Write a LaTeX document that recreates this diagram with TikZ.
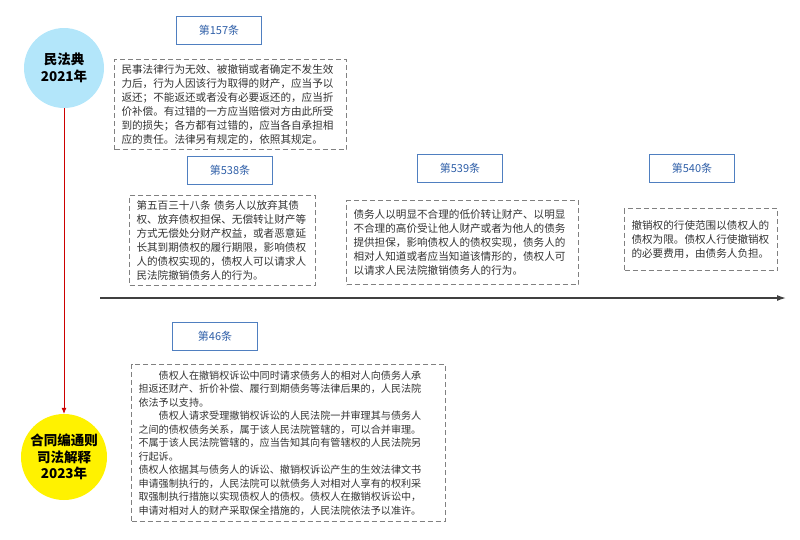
\documentclass[tikz,border=0pt]{standalone}
\usepackage{fontspec}
\setmainfont{Noto Sans CJK SC}
\usetikzlibrary{arrows.meta}
\definecolor{lb}{HTML}{4F7FC0}
\definecolor{lt}{HTML}{2F5FA8}
\begin{document}
\begin{tikzpicture}[x=1pt,y=-1pt,
  lab/.style={draw=lb,line width=0.9pt,fill=white,minimum width=85pt,minimum height=28pt,text=lt,font=\fontsize{11}{13}\selectfont},
  txt/.style={draw=gray,dash pattern=on 5pt off 3pt,line width=1pt,align=left,anchor=north west,inner xsep=7pt,inner ysep=5pt,text=black!80,font=\fontsize{10.6}{14}\selectfont},
  circ/.style={circle,minimum size=#1,inner sep=0pt,align=center,font=\bfseries\fontsize{13.5}{16.5}\selectfont}]
\useasboundingbox (0,0) rectangle (800,539);
\node[circ=80pt,fill=cyan!30] (c1) at (64,68) {民法典\\2021年};
\node[circ=86pt,fill=yellow] (c2) at (64,457) {合同编通则\\司法解释\\2023年};
\draw[red!80!black,line width=0.7pt,-{Latex[length=6pt,width=5pt]}] (c1) -- (c2);
\coordinate (t0) at (100,298); \coordinate (t1) at (786,298);
\draw[black!75,line width=1.3pt,-{Latex[length=9pt,width=6pt]}] (t0) -- (t1);
\node[lab] (l157) at (219,30) {第157条};
\node[lab] (l538) at (230,170) {第538条};
\node[lab] (l539) at (460,168) {第539条};
\node[lab] (l540) at (692,168) {第540条};
\node[lab] (l46) at (215,336) {第46条};
\node[txt,text width=218pt,minimum height=88pt] (b157) at (114,59) {民事法律行为无效、被撤销或者确定不发生效\\力后，行为人因该行为取得的财产，应当予以\\返还；不能返还或者没有必要返还的，应当折\\价补偿。有过错的一方应当赔偿对方由此所受\\到的损失；各方都有过错的，应当各自承担相\\应的责任。法律另有规定的，依照其规定。};
\node[txt,text width=172pt,minimum height=82pt] (b538) at (129,195) {第五百三十八条 债务人以放弃其债\\权、放弃债权担保、无偿转让财产等\\方式无偿处分财产权益，或者恶意延\\长其到期债权的履行期限，影响债权\\人的债权实现的，债权人可以请求人\\民法院撤销债务人的行为。};
\node[txt,text width=218pt,minimum height=84pt,inner ysep=7pt] (b539) at (346,200) {债务人以明显不合理的低价转让财产、以明显\\不合理的高价受让他人财产或者为他人的债务\\提供担保，影响债权人的债权实现，债务人的\\相对人知道或者应当知道该情形的，债权人可\\以请求人民法院撤销债务人的行为。};
\node[txt,text width=139pt,minimum height=62pt,inner ysep=7pt] (b540) at (624,208) {撤销权的行使范围以债权人的\\债权为限。债权人行使撤销权\\的必要费用，由债务人负担。};
\node[txt,text width=300pt,minimum height=156pt,inner ysep=6pt,font=\fontsize{10.1}{13.5}\selectfont] (b46) at (131,364) {\hspace{2em}债权人在撤销权诉讼中同时请求债务人的相对人向债务人承\\担返还财产、折价补偿、履行到期债务等法律后果的，人民法院\\依法予以支持。\\\hspace{2em}债权人请求受理撤销权诉讼的人民法院一并审理其与债务人\\之间的债权债务关系，属于该人民法院管辖的，可以合并审理。\\不属于该人民法院管辖的，应当告知其向有管辖权的人民法院另\\行起诉。\\债权人依据其与债务人的诉讼、撤销权诉讼产生的生效法律文书\\申请强制执行的，人民法院可以就债务人对相对人享有的权利采\\取强制执行措施以实现债权人的债权。债权人在撤销权诉讼中，\\申请对相对人的财产采取保全措施的，人民法院依法予以准许。};
\end{tikzpicture}
\end{document}
